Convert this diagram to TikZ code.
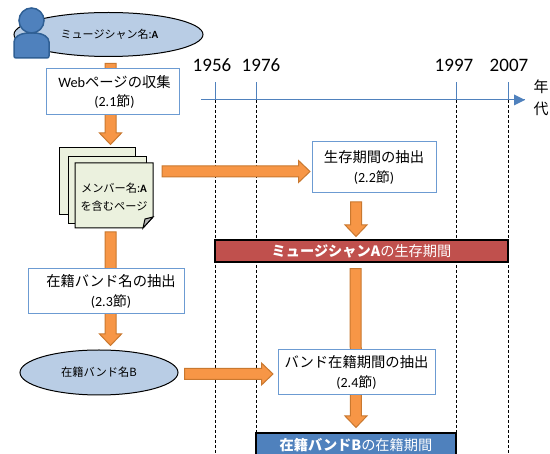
\documentclass[tikz,border=0pt]{standalone}
\usepackage{fontspec}
\setmainfont{Carlito}
\newfontfamily\jp{Noto Sans CJK JP}
\usetikzlibrary{shapes.geometric,calc}
\definecolor{axisblue}{HTML}{4F81BD}
\definecolor{boxblue}{HTML}{6C9BD2}
\definecolor{ellfill}{HTML}{B9CDE5}
\definecolor{arrfill}{HTML}{F79646}
\definecolor{arrline}{HTML}{C9782F}
\definecolor{pagefill}{HTML}{EBF1DE}
\definecolor{barred}{HTML}{C0504D}
\definecolor{persline}{HTML}{2F5F94}
\tikzset{
  stepbox/.style={draw=boxblue,line width=1pt,fill=white,align=center,inner sep=0pt,
    font=\fontsize{14.3}{20}\selectfont},
  nameell/.style={ellipse,draw=black,line width=1pt,fill=ellfill,inner sep=0pt,align=center},
  bararea/.style={draw=black,line width=1.1pt,inner sep=0pt,text=white,
    font=\fontsize{14.2}{17}\selectfont},
  pagebox/.style={draw=black,line width=1pt,fill=pagefill,inner sep=0pt},
  yearlabel/.style={font=\fontsize{19}{20}\selectfont,inner sep=0pt},
  tickline/.style={draw=axisblue,line width=0.9pt},
  dropline/.style={draw=black,line width=0.8pt,dash pattern=on 3pt off 2pt},
  blockarrow/.style={draw=arrline,line width=1pt,fill=arrfill,
    to path={
      ($(\tikztostart)!5.5pt!-90:(\tikztotarget)$) --
      ($(\tikztotarget)!11.5pt!(\tikztostart)!5.5pt!-90:(\tikztotarget)$) --
      ($(\tikztotarget)!11.5pt!(\tikztostart)!11pt!-90:(\tikztotarget)$) --
      (\tikztotarget) --
      ($(\tikztotarget)!11.5pt!(\tikztostart)!11pt!90:(\tikztotarget)$) --
      ($(\tikztotarget)!11.5pt!(\tikztostart)!5.5pt!90:(\tikztotarget)$) --
      ($(\tikztostart)!5.5pt!90:(\tikztotarget)$) -- cycle}}
}
\begin{document}
\begin{tikzpicture}[x=1pt,y=-1pt]
\useasboundingbox (0,0) rectangle (550,454);
\clip (0,0) rectangle (550,454);
\fill[white] (0,0) rectangle (550,454);

% time axis
\coordinate (axisL) at (201,100);
\coordinate (axisR) at (525,100);
\coordinate (t56) at (215,100);
\coordinate (t76) at (256,100);
\coordinate (t97) at (456,100);
\coordinate (t07) at (508,100);
\foreach \t in {t56,t76,t97,t07}{
  \draw[tickline] (\t) -- ++(0,-18);
  \draw[dropline] (\t) -- ++(0,354);
}
\draw[axisblue,line width=1pt] (axisL) -- (axisR);
\fill[axisblue] (514,94.5) -- (525,100) -- (514,105.5) -- cycle;
\node[yearlabel] (y56) at (212,65) {1956};
\node[yearlabel] (y76) at (261,65) {1976};
\node[yearlabel] (y97) at (454,65) {1997};
\node[yearlabel] (y07) at (509,65) {2007};
\node[align=center,inner sep=0pt,font=\fontsize{15}{22}\selectfont\jp] (yearword) at (541,98) {年\\代};

% bars and boxes (geometry first, arrows go behind the step boxes)
\node[nameell,minimum width=189,minimum height=44,font=\fontsize{11}{13}\selectfont] (ellA) at (108.5,34.5) {{\jp\hspace*{2pt}ミュージシャン名:}\textbf{A}};
\node[nameell,minimum width=158,minimum height=45,font=\fontsize{11.3}{13}\selectfont\jp] (ellB) at (99,372.5) {在籍バンド名B};

\coordinate (web) at (112.5,92);
\coordinate (sec22) at (374,167.5);
\coordinate (sec23) at (106,291.5);
\coordinate (sec24) at (356.5,372.5);

% pages
\node[pagebox,minimum width=76,minimum height=67] (page1) at (97,181.5) {};
\node[pagebox,minimum width=78,minimum height=67] (page2) at (107,190.5) {};
\draw[line width=1pt,fill=pagefill] (75,163) -- (153,163) -- (153,217) -- (143,228) -- (75,228) -- cycle;
\draw[line width=1pt,fill=white!70!black] (153,217) -- (145,219) -- (143,228) -- cycle;
\node[inner sep=0pt,align=center,font=\fontsize{11.2}{18}\selectfont] (page3) at (114,197) {{\jp メンバー名:}\textbf{A}\\{\jp を含むページ}};

\node[stepbox,minimum width=133,minimum height=46] (webnode) at (web) {};
\node[bararea,fill=barred,minimum width=293,minimum height=22] (barA) at (361.5,251) {\jp\textbf{ミュージシャンA}の生存期間};
\node[bararea,fill=axisblue,minimum width=200,minimum height=24] (barB) at (356,445) {\jp\textbf{在籍バンドB}の在籍期間};

% block arrows
\draw[blockarrow] ($(webnode.north)+(-2,-5)$) to ($(webnode.south)+(-2,29)$);
\draw[blockarrow] (162,171.5) to ($(sec22)+(-64,4)$);
\draw[blockarrow] ($(sec22)+(-18,34.5)$) to ($(barA.north)+(-5.5,-3)$);
\draw[blockarrow] ($(barA.south)+(-6,6)$) to ($(barB.north)+(0,-5)$);
\draw[blockarrow] (110.5,232) to ($(ellB.north)+(11.5,-4)$);
\draw[blockarrow] ($(ellB.east)+(6,1.5)$) to (273,374);

% step boxes
\node[stepbox,minimum width=133,minimum height=46] (webbox) at (web) {\hspace*{4pt}Web{\jp ページの収集}\\[-1pt]\hspace*{4pt}{\fontsize{14}{20}\selectfont(2.1{\jp 節})}};
\node[stepbox,minimum width=124,minimum height=51] (box22) at (sec22) {{\jp 生存期間の抽出}\\{\fontsize{14}{20}\selectfont(2.2{\jp 節})}};
\node[stepbox,minimum width=156,minimum height=45] (box23) at (sec23) {\hspace*{10pt}{\jp 在籍バンド名の抽出}\\\hspace*{10pt}{\fontsize{14}{20}\selectfont(2.3{\jp 節})}};
\node[stepbox,minimum width=157,minimum height=45] (box24) at (sec24) {{\jp バンド在籍期間の抽出}\\{\fontsize{14}{20}\selectfont(2.4{\jp 節})}};

% person icon
\draw[persline,line width=1.5pt,fill=axisblue,rounded corners=2pt]
  (14,58) -- (14,44) .. controls (14,37) and (20,33) .. (31.5,33) .. controls (43,33) and (49,37) .. (49,44) -- (49,58) -- cycle;
\draw[persline,line width=1.5pt,fill=axisblue] (31.5,20.5) circle (12.5);
\end{tikzpicture}
\end{document}
